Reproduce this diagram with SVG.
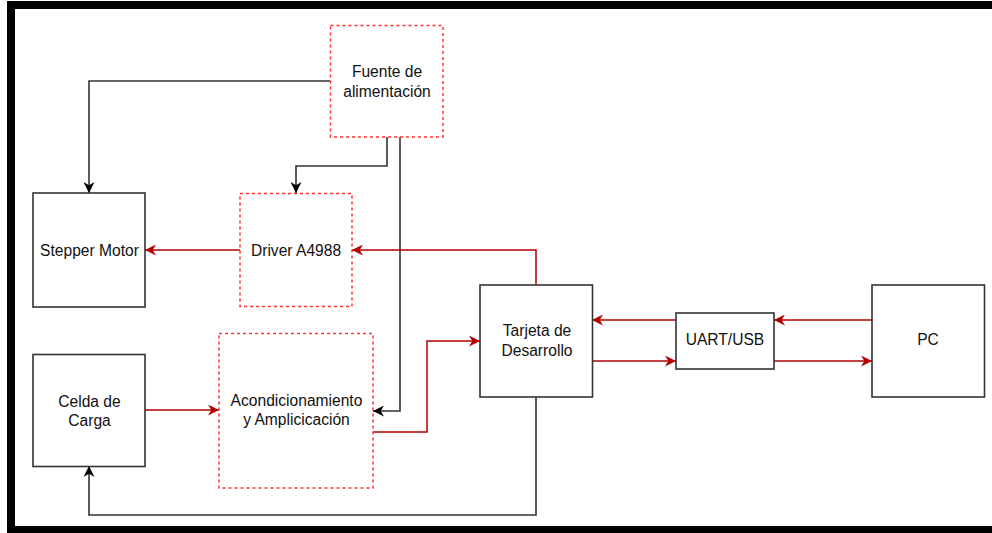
<svg xmlns="http://www.w3.org/2000/svg" width="992" height="533" viewBox="0 0 992 533">
<style>
.box{fill:#fff;stroke:#333;stroke-width:1.6}
.dbox{fill:#fff;stroke:#ff3333;stroke-width:1.5;stroke-dasharray:3 3}
.t{font-family:"Liberation Sans",Arial,sans-serif;font-size:15.6px;fill:#111;text-anchor:middle}
.k{fill:none;stroke:#333;stroke-width:1.6}
.r{fill:none;stroke:#b20000;stroke-width:1.5}
</style>
<defs>
<marker id="ak" viewBox="0 0 10 10" refX="10" refY="5" markerWidth="11" markerHeight="11" orient="auto" markerUnits="userSpaceOnUse"><path d="M0,0 L10,5 L0,10 L3,5 Z" fill="#000"/></marker>
<marker id="ar" viewBox="0 0 10 10" refX="10" refY="5" markerWidth="11" markerHeight="11" orient="auto" markerUnits="userSpaceOnUse"><path d="M0,0 L10,5 L0,10 L3,5 Z" fill="#b20000"/></marker>
</defs>
<rect x="0" y="0" width="992" height="533" fill="#fff"/>
<rect x="7" y="1" width="985" height="532" fill="#000"/>
<rect x="15" y="9" width="977" height="517" fill="#fff"/>

<g id="connectors">
<path class="k" d="M330,81 H89 V193" marker-end="url(#ak)"/>
<path class="k" d="M387,137 V166 H296 V193" marker-end="url(#ak)"/>
<path class="k" d="M400,137 V411 H373" marker-end="url(#ak)"/>
<path class="r" d="M240,250 H145" marker-end="url(#ar)"/>
<path class="r" d="M536,285 V250 H352" marker-end="url(#ar)"/>
<path class="r" d="M145,410 H219" marker-end="url(#ar)"/>
<path class="r" d="M373,432 H427 V341 H480" marker-end="url(#ar)"/>
<path class="k" d="M536,397 V515 H89 V466" marker-end="url(#ak)"/>
<path class="r" d="M676,320 H592" marker-end="url(#ar)"/>
<path class="r" d="M592,361 H676" marker-end="url(#ar)"/>
<path class="r" d="M872,320 H774" marker-end="url(#ar)"/>
<path class="r" d="M774,361 H872" marker-end="url(#ar)"/>
</g>

<g id="fuente">
<rect class="dbox" x="330.5" y="25.5" width="112.5" height="111.5"/>
<text class="t" x="387" y="77">Fuente de</text>
<text class="t" x="387" y="96.5">alimentación</text>
</g>
<g id="stepper">
<rect class="box" x="33" y="193" width="112" height="114"/>
<text class="t" x="89.5" y="255.5">Stepper Motor</text>
</g>
<g id="driver">
<rect class="dbox" x="240" y="193.5" width="112" height="113"/>
<text class="t" x="296" y="255.5">Driver A4988</text>
</g>
<g id="celda">
<rect class="box" x="33" y="354.5" width="112" height="112"/>
<text class="t" x="89.5" y="406.5">Celda de</text>
<text class="t" x="89.5" y="426">Carga</text>
</g>
<g id="acondicionamiento">
<rect class="dbox" x="219" y="333.5" width="154" height="154.5"/>
<text class="t" x="296.5" y="405.5">Acondicionamiento</text>
<text class="t" x="296.5" y="425">y Amplicicación</text>
</g>
<g id="tarjeta">
<rect class="box" x="480" y="285" width="112.5" height="112"/>
<text class="t" x="537" y="336">Tarjeta de</text>
<text class="t" x="537" y="355.5">Desarrollo</text>
</g>
<g id="uart">
<rect class="box" x="676" y="313" width="98" height="56"/>
<text class="t" x="725" y="344.5">UART/USB</text>
</g>
<g id="pc">
<rect class="box" x="872" y="285" width="112.5" height="112"/>
<text class="t" x="928" y="344.5">PC</text>
</g>
</svg>
